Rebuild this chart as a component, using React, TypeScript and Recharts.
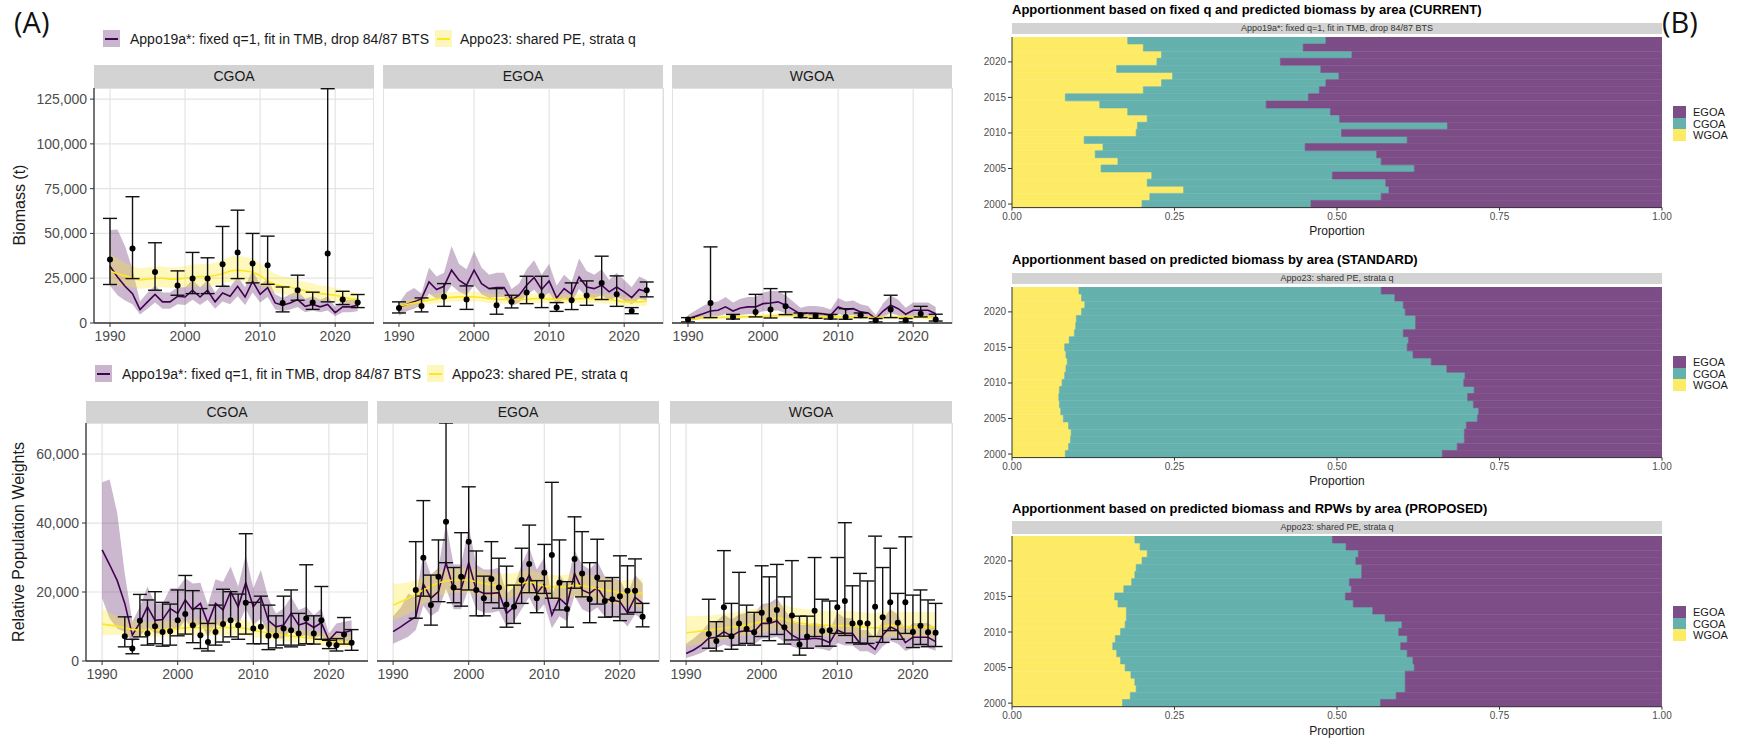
import { ComposedChart, Area, Line, Scatter, ErrorBar, XAxis, YAxis, CartesianGrid, BarChart, Bar } from "recharts";

// ---------- panel A: model fits by area ----------
const years = Array.from({ length: 34 }, (_, i) => 1990 + i);
const annualSurveyYears = Array.from({ length: 31 }, (_, i) => 1993 + i);

// Biomass (t) - CGOA
const bioCgoaP19 = [31700, 25700, 20500, 16400, 7500, 11800, 16000, 11800, 11800, 14900, 14500, 18300, 14500, 18300, 11800, 16800, 14900, 20500, 14500, 23300, 16000, 19800, 11200, 9900, 11200, 13100, 9300, 10400, 9000, 10400, 5800, 9000, 9000, 9900];
const bioCgoaP19Hi = [51900, 52200, 43000, 30000, 12000, 17000, 21000, 17000, 17000, 20000, 20000, 24000, 20000, 24000, 17000, 22000, 20000, 26000, 20000, 30000, 21000, 25000, 16000, 14000, 16000, 18000, 13500, 15000, 13000, 15000, 9000, 13000, 13000, 14000];
const bioCgoaP19Lo = [21000, 15500, 12500, 10500, 4800, 8000, 11500, 8000, 8000, 10500, 10000, 13000, 10000, 13000, 8000, 12000, 10500, 15000, 10000, 17000, 11500, 14500, 7500, 6500, 7500, 9000, 6000, 7000, 6000, 7000, 3800, 6000, 6000, 6500];
const bioCgoaA23 = [29000, 27500, 26300, 25000, 24000, 24500, 25000, 25000, 24500, 24500, 25000, 25500, 26000, 26000, 26500, 27500, 29000, 29500, 29000, 28500, 26500, 23500, 21500, 20500, 20000, 19000, 18000, 17000, 16500, 16000, 15500, 14500, 13500, 13000];
const bioCgoaA23Hi = [39000, 36000, 33500, 31500, 30500, 31000, 31500, 31500, 31000, 31000, 32000, 32500, 33000, 33000, 33500, 35000, 37000, 37500, 37000, 36000, 33500, 30000, 27500, 26000, 25500, 24000, 23000, 22000, 21000, 20500, 19500, 18500, 17500, 17000];
const bioCgoaA23Lo = [21500, 21000, 20500, 20000, 19000, 19500, 20000, 20000, 19500, 19500, 20000, 20000, 20500, 20500, 21000, 22000, 23000, 23500, 23000, 22500, 21000, 18500, 17000, 16000, 15500, 15000, 14000, 13000, 12500, 12500, 12000, 11000, 10500, 10000];
const bioCgoaSurvey = [1990, 1993, 1996, 1999, 2001, 2003, 2005, 2007, 2009, 2011, 2013, 2015, 2017, 2019, 2021, 2023];
const bioCgoaObs = [35400, 41600, 28500, 20900, 24800, 24800, 32800, 39400, 33200, 32300, 11200, 18300, 11400, 38800, 13100, 11400];
const bioCgoaObsLo = [21500, 24800, 18300, 15500, 16400, 16400, 20500, 24800, 22400, 21600, 6200, 12700, 7600, 11800, 10300, 8600];
const bioCgoaObsHi = [58400, 70500, 44800, 29100, 39400, 36400, 53900, 63000, 50000, 48500, 20100, 26700, 17200, 130800, 17700, 15900];

// Biomass (t) - EGOA
const bioEgoaP19 = [9000, 10300, 11800, 13600, 22900, 18700, 20500, 29500, 23900, 21100, 29500, 22000, 19200, 19800, 19800, 12700, 15500, 21100, 25400, 18700, 23500, 14000, 19200, 16000, 25700, 20100, 19200, 21100, 17400, 20100, 17400, 14200, 18700, 17400];
const bioEgoaP19Hi = [11000, 17000, 19500, 16500, 31000, 26000, 28000, 43000, 33000, 30000, 40000, 31000, 27000, 28000, 28000, 19000, 22000, 30000, 35000, 27000, 33000, 21000, 27000, 23000, 36000, 29000, 27000, 30000, 24000, 28000, 24000, 20000, 26000, 24000];
const bioEgoaP19Lo = [4000, 6500, 8000, 10000, 16500, 13500, 15000, 21000, 17500, 15500, 21000, 16000, 14000, 14500, 14500, 9500, 11500, 15500, 18500, 13500, 17000, 10000, 14000, 11500, 19000, 14500, 14000, 15500, 12500, 14500, 12500, 10500, 13500, 12500];
const bioEgoaA23 = [9300, 10300, 11200, 12000, 12700, 13400, 14000, 14300, 14600, 14600, 14600, 14200, 13600, 13300, 13100, 13100, 13100, 13300, 13600, 13500, 13400, 13200, 13100, 13300, 13600, 13600, 13600, 13400, 13100, 12500, 11800, 11800, 11800, 12100];
const bioEgoaA23Hi = [11500, 12800, 13800, 14700, 15500, 16300, 17000, 17300, 17600, 17600, 17600, 17200, 16500, 16200, 16000, 16000, 16000, 16200, 16500, 16400, 16300, 16100, 16000, 16200, 16500, 16500, 16500, 16300, 16000, 15300, 14500, 14500, 14600, 15000];
const bioEgoaA23Lo = [7300, 8200, 9000, 9800, 10400, 11000, 11500, 11800, 12000, 12000, 12000, 11700, 11200, 11000, 10800, 10800, 10800, 11000, 11200, 11100, 11000, 10900, 10800, 11000, 11200, 11200, 11200, 11000, 10800, 10200, 9600, 9600, 9500, 9700];
const bioEgoaSurvey = [1990, 1993, 1996, 1999, 2003, 2005, 2007, 2009, 2011, 2013, 2015, 2017, 2019, 2021, 2023];
const bioEgoaObs = [8400, 9500, 14600, 13100, 9900, 11800, 17000, 15100, 8600, 12700, 15300, 22400, 16000, 6700, 18300];
const bioEgoaObsLo = [5600, 6200, 9300, 7600, 4900, 8400, 10800, 8600, 6500, 7500, 9900, 13100, 9300, 5200, 14600];
const bioEgoaObsHi = [11800, 14000, 22000, 20700, 19200, 15500, 26100, 26100, 11400, 22400, 23500, 37300, 26300, 8600, 22900];

// Biomass (t) - WGOA
const bioWgoaP19 = [2400, 3700, 5200, 6700, 7100, 9000, 6700, 8400, 9000, 9000, 10800, 11200, 11800, 9900, 7500, 4900, 5600, 5600, 5200, 4300, 9000, 7500, 8000, 6200, 5600, 2400, 6700, 9900, 8000, 4900, 7100, 7100, 7100, 5200];
const bioWgoaP19Hi = [4500, 7000, 9500, 11500, 12000, 14500, 11500, 13500, 14500, 14500, 17000, 17900, 17900, 15500, 12000, 8500, 9500, 9500, 9000, 7500, 14000, 12000, 12500, 10500, 9500, 4500, 11000, 15500, 13000, 8500, 11500, 11500, 11500, 9000];
const bioWgoaP19Lo = [1000, 1800, 2500, 3500, 3800, 5000, 3500, 4500, 5000, 5000, 6500, 6800, 7000, 5500, 4000, 2300, 2800, 2800, 2500, 2000, 5000, 4000, 4300, 3200, 2800, 1000, 3500, 5500, 4300, 2300, 3800, 3800, 3800, 2500];
const bioWgoaA23 = [2400, 2600, 2800, 3000, 3100, 3200, 3300, 3400, 3500, 3600, 3700, 3900, 4100, 4300, 4100, 3800, 3600, 3500, 3400, 3400, 3500, 3500, 3400, 3300, 3200, 3100, 3100, 3200, 3300, 3300, 3300, 3200, 3000, 2800];
const bioWgoaA23Hi = [3700, 3900, 4100, 4300, 4400, 4500, 4600, 4700, 4800, 4900, 5000, 5200, 5400, 5600, 5400, 5100, 4900, 4800, 4700, 4700, 4800, 4800, 4700, 4600, 4500, 4400, 4400, 4500, 4600, 4600, 4600, 4500, 4300, 4100];
const bioWgoaA23Lo = [1500, 1700, 1900, 2000, 2100, 2200, 2300, 2400, 2500, 2600, 2700, 2800, 3000, 3200, 3000, 2700, 2600, 2500, 2400, 2400, 2500, 2500, 2400, 2300, 2200, 2100, 2100, 2200, 2300, 2300, 2300, 2200, 2000, 1800];
const bioWgoaSurvey = [1990, 1993, 1996, 1999, 2001, 2003, 2005, 2007, 2009, 2011, 2013, 2015, 2017, 2019, 2021, 2023];
const bioWgoaObs = [1900, 11200, 3400, 6200, 7500, 9300, 4300, 3900, 3400, 3400, 4300, 1500, 7500, 1500, 5200, 1900];
const bioWgoaObsLo = [600, 3000, 2200, 3400, 2800, 4700, 3000, 2600, 2200, 2100, 3000, 600, 3000, 600, 3400, 1100];
const bioWgoaObsHi = [3000, 42500, 4800, 16000, 19200, 17400, 5600, 5200, 4800, 8000, 5600, 2500, 15500, 2500, 9300, 4900];

// Relative Population Weights - CGOA
const rpwCgoaP19 = [32200, 27900, 23300, 16700, 7500, 11100, 15700, 11800, 12000, 15200, 13800, 17700, 14800, 16700, 10900, 16700, 14800, 20100, 15700, 22700, 15700, 18600, 11700, 9900, 10400, 13800, 10400, 11100, 9700, 11100, 6000, 8400, 8200, 8900];
const rpwCgoaP19Hi = [51800, 52600, 42900, 25400, 11400, 15700, 21600, 16700, 16700, 21100, 21100, 24000, 22500, 22700, 16200, 23700, 23000, 27400, 21600, 30800, 21100, 26400, 18200, 13800, 15200, 18600, 14800, 15700, 13300, 15200, 8000, 10900, 11400, 11800];
const rpwCgoaP19Lo = [18200, 12300, 9400, 8400, 5500, 7000, 9900, 8000, 8000, 9900, 8900, 11800, 9400, 10900, 7000, 10900, 9400, 13300, 10400, 15200, 10400, 12300, 7500, 6500, 6500, 8900, 7000, 7500, 6500, 7500, 4100, 5500, 5500, 6000];
const rpwCgoaA23 = [10700, 10400, 10100, 9600, 9100, 9000, 8900, 9000, 9100, 9300, 9400, 9600, 9700, 9600, 9400, 9500, 9700, 9700, 9700, 9400, 8900, 8500, 8200, 7800, 7500, 7200, 7000, 6800, 6500, 6100, 5700, 5600, 5500, 5500];
const rpwCgoaA23Hi = [15200, 14000, 13000, 12200, 11600, 11400, 11300, 11400, 11500, 11700, 11800, 12000, 12100, 12000, 11800, 11900, 12100, 12100, 12100, 11800, 11200, 10800, 10400, 10000, 9700, 9400, 9100, 8900, 8600, 8100, 7700, 7600, 7500, 7500];
const rpwCgoaA23Lo = [7500, 7600, 7600, 7300, 7000, 7000, 6900, 7000, 7000, 7200, 7300, 7400, 7500, 7400, 7300, 7400, 7500, 7500, 7500, 7300, 6900, 6600, 6300, 6000, 5800, 5500, 5300, 5100, 4900, 4500, 4200, 4100, 4000, 4000];
const rpwCgoaObs = [7200, 3600, 11700, 8000, 10100, 8400, 8600, 11800, 13600, 10400, 7500, 5500, 8400, 10700, 11800, 10400, 16900, 9400, 9900, 7300, 7300, 9400, 8900, 8000, 12300, 8000, 11800, 4900, 4600, 7700, 5300];
const rpwCgoaObsLo = [4100, 2100, 7000, 4600, 5000, 4300, 4600, 7300, 7800, 5300, 3600, 2900, 4600, 5500, 7000, 6300, 7800, 5000, 5000, 3300, 3800, 4600, 4100, 4600, 5000, 4900, 6300, 3600, 2900, 4900, 3100];
const rpwCgoaObsHi = [12800, 6300, 19300, 17700, 20100, 17000, 16500, 20600, 24800, 20400, 15200, 10900, 16200, 20800, 20100, 19400, 36900, 17000, 18800, 16200, 13100, 18800, 20600, 13800, 27900, 13100, 21600, 6000, 6500, 12600, 9100];

// Relative Population Weights - EGOA
const rpwEgoaP19 = [8500, 9900, 11400, 12800, 22300, 18200, 20100, 28500, 20800, 20800, 28500, 20600, 19600, 19600, 19800, 13800, 15700, 20600, 24900, 19600, 22300, 13300, 18200, 16200, 25400, 20600, 19600, 21300, 17900, 17700, 17200, 14000, 18500, 16700];
const rpwEgoaP19Hi = [13000, 15500, 19500, 18500, 31000, 25000, 27000, 40000, 28000, 28000, 39000, 28000, 26500, 26500, 27000, 19500, 21500, 28000, 33000, 26500, 30000, 19000, 25000, 22000, 32000, 28000, 26500, 29000, 24500, 24000, 23500, 19500, 25000, 22500];
const rpwEgoaP19Lo = [5000, 6000, 7000, 9000, 16000, 13000, 14500, 21000, 15000, 15000, 21000, 15000, 14000, 14000, 14500, 10000, 11500, 15000, 18500, 14000, 16500, 9500, 13000, 11500, 19000, 15000, 14000, 15500, 13000, 13000, 12500, 10000, 13500, 12000];
const rpwEgoaA23 = [16200, 17200, 18200, 19400, 20600, 21700, 22700, 23200, 23500, 23500, 23500, 23000, 22500, 22100, 21700, 21800, 22000, 22500, 23000, 22400, 21700, 21500, 21300, 21600, 22000, 21800, 21500, 21000, 20600, 20200, 19800, 19800, 19800, 19600];
const rpwEgoaA23Hi = [22500, 22500, 22800, 23500, 24300, 25200, 26200, 26700, 27000, 27000, 27000, 26500, 26000, 25600, 25200, 25300, 25500, 26000, 26500, 25900, 25200, 25000, 24800, 25100, 25500, 25300, 25000, 24500, 24100, 23700, 23300, 23500, 23700, 24000];
const rpwEgoaA23Lo = [11900, 12600, 13600, 15000, 16500, 17800, 19000, 19500, 19800, 19800, 19800, 19400, 18900, 18500, 18100, 18200, 18400, 18900, 19400, 18800, 18100, 17900, 17700, 18000, 18400, 18200, 17900, 17400, 17000, 16600, 16200, 16000, 15800, 15500];
const rpwEgoaObs = [20600, 29900, 16200, 24400, 40400, 21300, 24400, 34600, 20600, 18200, 23800, 21300, 16400, 15700, 23500, 28100, 18200, 25600, 30700, 22700, 15100, 29600, 25400, 17900, 24200, 17400, 17900, 18800, 20400, 20400, 12800];
const rpwEgoaObsLo = [12400, 18800, 10400, 17200, 28500, 16900, 15900, 20600, 13100, 13100, 16900, 15300, 9800, 10900, 16700, 19800, 14000, 19600, 18200, 14800, 9800, 21100, 18600, 11100, 16500, 12700, 12800, 11700, 13600, 14100, 9900];
const rpwEgoaObsHi = [34600, 46500, 24900, 35100, 69000, 27100, 37200, 50500, 31900, 24600, 34600, 29800, 27500, 22000, 32700, 39400, 23300, 33800, 51800, 35100, 23000, 41800, 37500, 28500, 35300, 23200, 24200, 30500, 27600, 29600, 16700];

// Relative Population Weights - WGOA
const rpwWgoaP19 = [2200, 3200, 4600, 6600, 6900, 8500, 7200, 8500, 8800, 8500, 10900, 10900, 11600, 9500, 7500, 6300, 6300, 6600, 6300, 5300, 9000, 8000, 8000, 5100, 5100, 3400, 7500, 9900, 8800, 5300, 6900, 6900, 6900, 5600];
const rpwWgoaP19Hi = [5000, 6500, 8500, 11000, 11500, 13500, 12000, 13500, 14000, 13500, 16500, 16800, 18200, 15000, 12000, 10500, 10500, 11000, 10500, 9000, 14000, 12500, 12500, 9000, 9000, 6500, 12000, 15000, 13500, 9000, 11000, 11000, 11000, 9500];
const rpwWgoaP19Lo = [900, 1500, 2300, 3500, 3800, 4800, 4000, 4800, 5000, 4800, 6500, 6500, 7000, 5500, 4200, 3500, 3500, 3700, 3500, 2900, 5200, 4500, 4500, 2800, 2800, 1700, 4200, 5800, 5000, 2900, 3800, 3800, 3800, 3000];
const rpwWgoaA23 = [8200, 8400, 8700, 8900, 9200, 9500, 9800, 10100, 10400, 10900, 11400, 12000, 12600, 12100, 11400, 11000, 10700, 10500, 10400, 10300, 10200, 10200, 10200, 10000, 9800, 9500, 10000, 10400, 10200, 10000, 9900, 9900, 9900, 9900];
const rpwWgoaA23Hi = [13000, 13000, 13100, 13200, 13400, 13700, 14000, 14300, 14600, 15100, 15600, 16200, 16800, 16300, 15600, 15200, 14900, 14700, 14600, 14500, 14400, 14400, 14400, 14200, 14000, 13700, 14200, 14600, 14400, 14200, 14100, 14100, 14100, 14100];
const rpwWgoaA23Lo = [4200, 4600, 5100, 5500, 5900, 6300, 6700, 7000, 7300, 7700, 8100, 8600, 9100, 8700, 8100, 7800, 7500, 7300, 7200, 7100, 7000, 7000, 7000, 6800, 6600, 6300, 6800, 7200, 7000, 6800, 6700, 6700, 6700, 6700];
const rpwWgoaObs = [7800, 5800, 15600, 7200, 10900, 9300, 8300, 14000, 11900, 14800, 9800, 13200, 4800, 7100, 14600, 8700, 8900, 15600, 17400, 10900, 11100, 10900, 15700, 12700, 17000, 11100, 17000, 8400, 10200, 8300, 8200];
const rpwWgoaObsLo = [3700, 2900, 7200, 3400, 4600, 5100, 4600, 7100, 5900, 7700, 4900, 6100, 1700, 3700, 7100, 4300, 4300, 8000, 7400, 5300, 4900, 5100, 7100, 5400, 8800, 6300, 8000, 3900, 4800, 4200, 4200];
const rpwWgoaObsHi = [17900, 11400, 32000, 16700, 25700, 16200, 14100, 27600, 24400, 28000, 18600, 29100, 13000, 13000, 30000, 17900, 17400, 30000, 40100, 21800, 25400, 23200, 36200, 27100, 32700, 19600, 36000, 19100, 20600, 17700, 16700];

const bioTicks = [0, 25000, 50000, 75000, 100000, 125000];
const rpwTicks = [0, 20000, 40000, 60000];
const yearTicks = [1990, 2000, 2010, 2020];

// ---------- panel B: apportionment ----------
const apportYears = Array.from({ length: 24 }, (_, i) => 2000 + i);
// cumulative share: WGOA, then WGOA + CGOA (EGOA is the rest)
const currentW = [0.200, 0.212, 0.264, 0.208, 0.215, 0.137, 0.163, 0.128, 0.140, 0.111, 0.191, 0.193, 0.208, 0.178, 0.135, 0.082, 0.202, 0.230, 0.247, 0.161, 0.223, 0.230, 0.202, 0.178];
const currentWC = [0.460, 0.568, 0.580, 0.575, 0.493, 0.619, 0.568, 0.561, 0.451, 0.608, 0.507, 0.670, 0.504, 0.490, 0.391, 0.456, 0.473, 0.483, 0.503, 0.475, 0.413, 0.523, 0.448, 0.483];
const standardW = [0.082, 0.087, 0.090, 0.091, 0.087, 0.079, 0.075, 0.073, 0.072, 0.073, 0.077, 0.081, 0.083, 0.085, 0.083, 0.081, 0.088, 0.096, 0.098, 0.099, 0.107, 0.112, 0.107, 0.103];
const standardWC = [0.662, 0.685, 0.696, 0.696, 0.699, 0.716, 0.718, 0.710, 0.701, 0.711, 0.695, 0.697, 0.669, 0.645, 0.617, 0.608, 0.610, 0.602, 0.621, 0.621, 0.605, 0.602, 0.589, 0.568];
const proposedW = [0.170, 0.182, 0.191, 0.189, 0.183, 0.174, 0.167, 0.161, 0.155, 0.159, 0.167, 0.174, 0.176, 0.176, 0.163, 0.158, 0.172, 0.184, 0.189, 0.191, 0.200, 0.208, 0.197, 0.189];
const proposedWC = [0.567, 0.591, 0.605, 0.605, 0.605, 0.619, 0.617, 0.608, 0.598, 0.608, 0.595, 0.600, 0.574, 0.555, 0.525, 0.513, 0.522, 0.519, 0.538, 0.538, 0.529, 0.533, 0.514, 0.493];
const propTicks = [0, 0.25, 0.5, 0.75, 1];

const P19 = "#440154";
const A23 = "#FDE725";
const EGOA_FILL = "#7c4d87";
const CGOA_FILL = "#64b1ae";
const WGOA_FILL = "#fdeb66";
const STRIP = "#d3d3d3";
const XDOM = [1987.87, 2025.17];

function makeRows(pm, pl, ph, am, al, ah) {
  return years.map((year, i) => ({ year, pm: pm[i], pr: [pl[i], ph[i]], am: am[i], ar: [al[i], ah[i]] }));
}

function makePts(yrs, obs, lo, hi) {
  return yrs.map((year, i) => ({ year, y: obs[i], err: [obs[i] - lo[i], hi[i] - obs[i]] }));
}

const dot = (p) => <circle cx={p.cx} cy={p.cy} r={3} fill="#000" />;

function Facet({ left, stripTop, plotTop, plotBottom, width, name, yMax, ticks, showY, rows, pts }) {
  const plotH = plotBottom - plotTop;
  const yW = showY ? 80 : 0;
  const stripH = plotTop - stripTop;
  return (
    <>
      <div style={{ position: "absolute", left, top: stripTop, width, height: stripH, background: STRIP, color: "#1a1a1a", fontSize: 14, textAlign: "center", lineHeight: stripH + "px" }}>{name}</div>
      <div style={{ position: "absolute", left, top: plotTop, width: width - 1, height: plotH, borderTop: "1px solid #dedede", borderRight: "1px solid #dedede", borderLeft: showY ? "none" : "1px solid #dedede" }} />
      <div style={{ position: "absolute", left: left - yW, top: plotTop }}>
        <ComposedChart width={width + yW} height={plotH + 30} data={rows} margin={{ top: 0, right: 0, bottom: 0, left: 0 }}>
          <CartesianGrid stroke="#e4e4e4" strokeWidth={1.2} />
          <XAxis dataKey="year" type="number" domain={XDOM} ticks={yearTicks} allowDataOverflow height={30}
            tick={{ fontSize: 14, fill: "#4d4d4d" }} tickSize={4} tickMargin={4}
            axisLine={{ stroke: "#333", strokeWidth: 1.3 }} tickLine={{ stroke: "#333" }} />
          <YAxis type="number" domain={[0, yMax]} ticks={ticks} allowDataOverflow width={yW}
            tick={showY ? { fontSize: 14, fill: "#4d4d4d" } : false} tickSize={4} tickMargin={3}
            tickFormatter={(v) => v.toLocaleString("en-US")}
            axisLine={showY ? { stroke: "#333", strokeWidth: 1.3 } : false} tickLine={showY ? { stroke: "#333" } : false} />
          <Area dataKey="pr" type="linear" stroke="none" fill={P19} fillOpacity={0.28} isAnimationActive={false} />
          <Area dataKey="ar" type="linear" stroke="none" fill={A23} fillOpacity={0.3} isAnimationActive={false} />
          <Line dataKey="pm" type="linear" stroke={P19} strokeWidth={1.6} dot={false} isAnimationActive={false} />
          <Line dataKey="am" type="linear" stroke={A23} strokeWidth={1.6} dot={false} isAnimationActive={false} />
          <Scatter data={pts} dataKey="y" shape={dot} isAnimationActive={false}>
            <ErrorBar dataKey="err" direction="y" width={7} stroke="#111" strokeWidth={1.4} />
          </Scatter>
        </ComposedChart>
      </div>
    </>
  );
}

function LegendSwatch({ line, fill }) {
  return (
    <div style={{ position: "relative", width: 17, height: 17, background: fill }}>
      <div style={{ position: "absolute", left: 2, right: 2, top: 7.5, height: 2, background: line }} />
    </div>
  );
}

function FitLegend({ left, top }) {
  return (
    <div style={{ position: "absolute", left, top, display: "flex", alignItems: "center", fontSize: 14, color: "#1a1a1a", whiteSpace: "nowrap" }}>
      <LegendSwatch line={P19} fill="#c9b6ce" />
      <span style={{ marginLeft: 10 }}>Appo19a*: fixed q=1, fit in TMB, drop 84/87 BTS</span>
      <div style={{ marginLeft: 6 }}><LegendSwatch line={A23} fill="#fef7bd" /></div>
      <span style={{ marginLeft: 8 }}>Appo23: shared PE, strata q</span>
    </div>
  );
}

const B_LEFT = 1012;
const B_W = 650;

const yearTick = (p) => {
  const v = Number(p.payload.value);
  if (v % 5 !== 0) return <g />;
  return (
    <g>
      <line x1={36} x2={40} y1={p.y} y2={p.y} stroke="#333" />
      <text x={34} y={p.y} dy={3.5} textAnchor="end" fontSize={10} fill="#4d4d4d">{v}</text>
    </g>
  );
};

function Apport({ title, strip, w, wc, titleTop, stripTop, plotTop, plotBottom, legendTop }) {
  const rows = apportYears.map((year, i) => ({ year, WGOA: w[i], CGOA: wc[i] - w[i], EGOA: 1 - wc[i] }));
  const plotH = plotBottom - plotTop;
  const stripH = plotTop - 2.4 - stripTop;
  return (
    <>
      <div style={{ position: "absolute", left: B_LEFT, top: titleTop, fontSize: 13, fontWeight: "bold", lineHeight: "13px", whiteSpace: "nowrap", color: "#000" }}>{title}</div>
      <div style={{ position: "absolute", left: B_LEFT, top: stripTop, width: B_W, height: stripH, background: STRIP, fontSize: 9, lineHeight: stripH + "px", textAlign: "center", color: "#333" }}>{strip}</div>
      <div style={{ position: "absolute", left: B_LEFT - 40, top: plotTop }}>
        <BarChart layout="vertical" width={B_W + 60} height={plotH + 26} data={rows} barCategoryGap={0} margin={{ top: 0, right: 20, bottom: 0, left: 0 }}>
          <XAxis type="number" domain={[0, 1]} ticks={propTicks} allowDataOverflow height={26}
            tickFormatter={(v) => v.toFixed(2)} tick={{ fontSize: 10, fill: "#4d4d4d" }} tickSize={3} tickMargin={2}
            axisLine={{ stroke: "#333" }} tickLine={{ stroke: "#333" }} />
          <YAxis type="category" dataKey="year" reversed width={40} interval={0} tick={yearTick} tickLine={false} axisLine={{ stroke: "#333" }} />
          <Bar dataKey="WGOA" stackId="s" fill={WGOA_FILL} stroke={WGOA_FILL} strokeWidth={0.6} isAnimationActive={false} />
          <Bar dataKey="CGOA" stackId="s" fill={CGOA_FILL} stroke={CGOA_FILL} strokeWidth={0.6} isAnimationActive={false} />
          <Bar dataKey="EGOA" stackId="s" fill={EGOA_FILL} stroke={EGOA_FILL} strokeWidth={0.6} isAnimationActive={false} />
        </BarChart>
      </div>
      <div style={{ position: "absolute", left: B_LEFT, top: plotBottom + 17, width: B_W, textAlign: "center", fontSize: 12, lineHeight: "14px", color: "#1a1a1a" }}>Proportion</div>
      {[["EGOA", EGOA_FILL], ["CGOA", CGOA_FILL], ["WGOA", WGOA_FILL]].map(([name, col], i) => (
        <div key={name} style={{ position: "absolute", left: 1673, top: legendTop + i * 11.7, display: "flex", alignItems: "center", height: 11.7 }}>
          <div style={{ width: 13, height: 11.7, background: col }} />
          <span style={{ marginLeft: 7, fontSize: 11, color: "#1a1a1a" }}>{name}</span>
        </div>
      ))}
    </>
  );
}

export default function App() {
  const topRow = [
    { name: "CGOA", left: 94, rows: makeRows(bioCgoaP19, bioCgoaP19Lo, bioCgoaP19Hi, bioCgoaA23, bioCgoaA23Lo, bioCgoaA23Hi), pts: makePts(bioCgoaSurvey, bioCgoaObs, bioCgoaObsLo, bioCgoaObsHi) },
    { name: "EGOA", left: 383, rows: makeRows(bioEgoaP19, bioEgoaP19Lo, bioEgoaP19Hi, bioEgoaA23, bioEgoaA23Lo, bioEgoaA23Hi), pts: makePts(bioEgoaSurvey, bioEgoaObs, bioEgoaObsLo, bioEgoaObsHi) },
    { name: "WGOA", left: 672, rows: makeRows(bioWgoaP19, bioWgoaP19Lo, bioWgoaP19Hi, bioWgoaA23, bioWgoaA23Lo, bioWgoaA23Hi), pts: makePts(bioWgoaSurvey, bioWgoaObs, bioWgoaObsLo, bioWgoaObsHi) },
  ];
  const bottomRow = [
    { name: "CGOA", left: 86, rows: makeRows(rpwCgoaP19, rpwCgoaP19Lo, rpwCgoaP19Hi, rpwCgoaA23, rpwCgoaA23Lo, rpwCgoaA23Hi), pts: makePts(annualSurveyYears, rpwCgoaObs, rpwCgoaObsLo, rpwCgoaObsHi) },
    { name: "EGOA", left: 377, rows: makeRows(rpwEgoaP19, rpwEgoaP19Lo, rpwEgoaP19Hi, rpwEgoaA23, rpwEgoaA23Lo, rpwEgoaA23Hi), pts: makePts(annualSurveyYears, rpwEgoaObs, rpwEgoaObsLo, rpwEgoaObsHi) },
    { name: "WGOA", left: 670, rows: makeRows(rpwWgoaP19, rpwWgoaP19Lo, rpwWgoaP19Hi, rpwWgoaA23, rpwWgoaA23Lo, rpwWgoaA23Hi), pts: makePts(annualSurveyYears, rpwWgoaObs, rpwWgoaObsLo, rpwWgoaObsHi) },
  ];

  return (
    <div style={{ position: "absolute", left: 0, top: 0, width: 1741, height: 739, overflow: "hidden", background: "#fff", fontFamily: "'Liberation Sans', Arial, sans-serif" }}>
      <div style={{ position: "absolute", left: 14, top: 2, fontSize: 29, fontFamily: "'Open Sans', sans-serif", color: "#111" }}>(A)</div>
      <div style={{ position: "absolute", left: 1662, top: 2, fontSize: 29, fontFamily: "'Open Sans', sans-serif", color: "#111" }}>(B)</div>

      <FitLegend left={103} top={30} />
      <div style={{ position: "absolute", left: -130, top: 195, width: 300, textAlign: "center", fontSize: 16, lineHeight: "20px", color: "#1a1a1a", transform: "rotate(-90deg)" }}>Biomass (t)</div>
      {topRow.map((f, i) => (
        <Facet key={"t" + f.name} left={f.left} stripTop={65} plotTop={88} plotBottom={323} width={280} name={f.name}
          yMax={131200} ticks={bioTicks} showY={i === 0} rows={f.rows} pts={f.pts} />
      ))}

      <FitLegend left={95} top={365} />
      <div style={{ position: "absolute", left: -131, top: 532, width: 300, textAlign: "center", fontSize: 16, lineHeight: "20px", color: "#1a1a1a", transform: "rotate(-90deg)" }}>Relative Population Weights</div>
      {bottomRow.map((f, i) => (
        <Facet key={"b" + f.name} left={f.left} stripTop={401} plotTop={423} plotBottom={661} width={282} name={f.name}
          yMax={69000} ticks={rpwTicks} showY={i === 0} rows={f.rows} pts={f.pts} />
      ))}

      <Apport title="Apportionment based on fixed q and predicted biomass by area (CURRENT)" strip="Appo19a*: fixed q=1, fit in TMB, drop 84/87 BTS"
        w={currentW} wc={currentWC} titleTop={3} stripTop={22.7} plotTop={36.7} plotBottom={207.3} legendTop={106} />
      <Apport title="Apportionment based on predicted biomass by area (STANDARD)" strip="Appo23: shared PE, strata q"
        w={standardW} wc={standardWC} titleTop={253} stripTop={272.7} plotTop={286.7} plotBottom={457.3} legendTop={356} />
      <Apport title="Apportionment based on predicted biomass and RPWs by area (PROPOSED)" strip="Appo23: shared PE, strata q"
        w={proposedW} wc={proposedWC} titleTop={502} stripTop={521} plotTop={536} plotBottom={706.7} legendTop={606} />
    </div>
  );
}
